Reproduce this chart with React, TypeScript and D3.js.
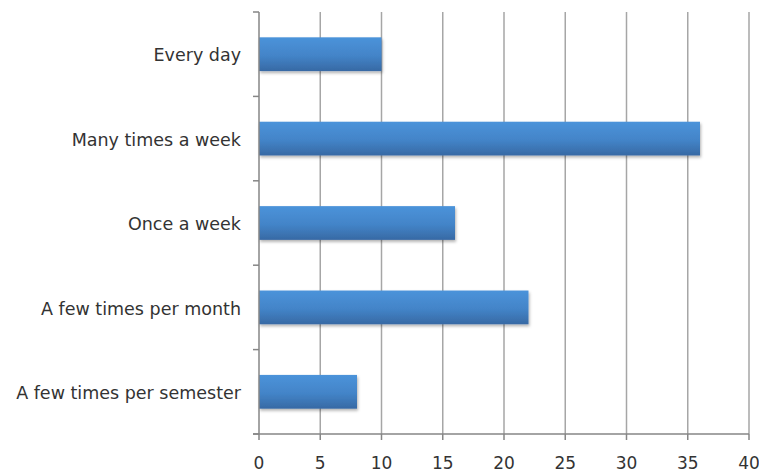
import { useEffect, useRef } from 'react';
import * as d3 from 'd3';

const categories = [
  "Every day",
  "Many times a week",
  "Once a week",
  "A few times per month",
  "A few times per semester"
];
const values = [10, 36, 16, 22, 8];
const xTicks = [0, 5, 10, 15, 20, 25, 30, 35, 40];

export default function App() {
  const svgRef = useRef<SVGSVGElement>(null);

  useEffect(() => {
    if (!svgRef.current) return;
    const margin = { top: 12, right: 10, bottom: 40, left: 259 };
    const bottom = 434;

    const svg = d3.select(svgRef.current);
    svg.selectAll("*").remove();

    const defs = svg.append("defs");
    const grad = defs.append("linearGradient")
      .attr("id", "barGrad")
      .attr("x1", 0).attr("y1", 0).attr("x2", 0).attr("y2", 1);
    grad.append("stop").attr("offset", "0%").attr("stop-color", "#4b93da");
    grad.append("stop").attr("offset", "55%").attr("stop-color", "#4384c8");
    grad.append("stop").attr("offset", "100%").attr("stop-color", "#3769a4");

    const shadow = defs.append("filter")
      .attr("id", "shadow")
      .attr("x", "-5%").attr("y", "-20%").attr("width", "115%").attr("height", "150%");
    shadow.append("feDropShadow")
      .attr("dx", 1).attr("dy", 2).attr("stdDeviation", 1.5)
      .attr("flood-color", "#000").attr("flood-opacity", 0.3);

    const x = d3.scaleLinear()
      .domain([0, 40])
      .range([margin.left, 749]);

    const y = d3.scaleBand()
      .domain(categories)
      .range([margin.top, bottom])
      .paddingInner(0.6)
      .paddingOuter(0.3);

    const font = "'DejaVu Sans', sans-serif";

    // Gridlines
    svg.append("g")
      .selectAll("line")
      .data(xTicks.slice(1))
      .enter()
      .append("line")
      .attr("x1", d => x(d))
      .attr("x2", d => x(d))
      .attr("y1", margin.top)
      .attr("y2", bottom)
      .attr("stroke", "#a6a6a6")
      .attr("stroke-width", 1.5);

    // Bars
    svg.append("g")
      .selectAll("rect")
      .data(categories)
      .enter()
      .append("rect")
      .attr("x", x(0))
      .attr("y", d => y(d)!)
      .attr("width", (d, i) => x(values[i]) - x(0))
      .attr("height", y.bandwidth())
      .attr("fill", "url(#barGrad)")
      .attr("filter", "url(#shadow)");

    // Y axis
    const step = (bottom - margin.top) / categories.length;
    const yAxis = svg.append("g");
    yAxis.append("line")
      .attr("x1", x(0)).attr("x2", x(0))
      .attr("y1", margin.top).attr("y2", bottom)
      .attr("stroke", "#868686").attr("stroke-width", 1.5);
    yAxis.selectAll(".ytick")
      .data(d3.range(categories.length + 1))
      .enter()
      .append("line")
      .attr("x1", x(0) - 6).attr("x2", x(0))
      .attr("y1", d => margin.top + d * step)
      .attr("y2", d => margin.top + d * step)
      .attr("stroke", "#868686").attr("stroke-width", 1.5);
    yAxis.selectAll("text")
      .data(categories)
      .enter()
      .append("text")
      .attr("x", 241)
      .attr("y", d => y(d)! + y.bandwidth() / 2 + 1)
      .attr("dy", "0.35em")
      .attr("text-anchor", "end")
      .attr("font-family", font)
      .attr("font-size", "17.5px")
      .attr("fill", "#333333")
      .text(d => d);

    // X axis
    const xAxis = svg.append("g");
    xAxis.append("line")
      .attr("x1", x(0) - 6).attr("x2", x(40))
      .attr("y1", bottom).attr("y2", bottom)
      .attr("stroke", "#868686").attr("stroke-width", 1.5);
    xAxis.selectAll(".xtick")
      .data(xTicks)
      .enter()
      .append("line")
      .attr("x1", d => x(d)).attr("x2", d => x(d))
      .attr("y1", bottom).attr("y2", bottom + 6)
      .attr("stroke", "#868686").attr("stroke-width", 1.5);
    xAxis.selectAll("text")
      .data(xTicks)
      .enter()
      .append("text")
      .attr("x", d => x(d))
      .attr("y", 469)
      .attr("text-anchor", "middle")
      .attr("font-family", font)
      .attr("font-size", "17px")
      .attr("fill", "#333333")
      .text(d => d);
  }, []);

  return (
    <svg
      ref={svgRef}
      width={759}
      height={474}
      viewBox="0 0 759 474"
      style={{ position: 'absolute', left: 0, top: 0, background: '#fff' }}
    ></svg>
  );
}
